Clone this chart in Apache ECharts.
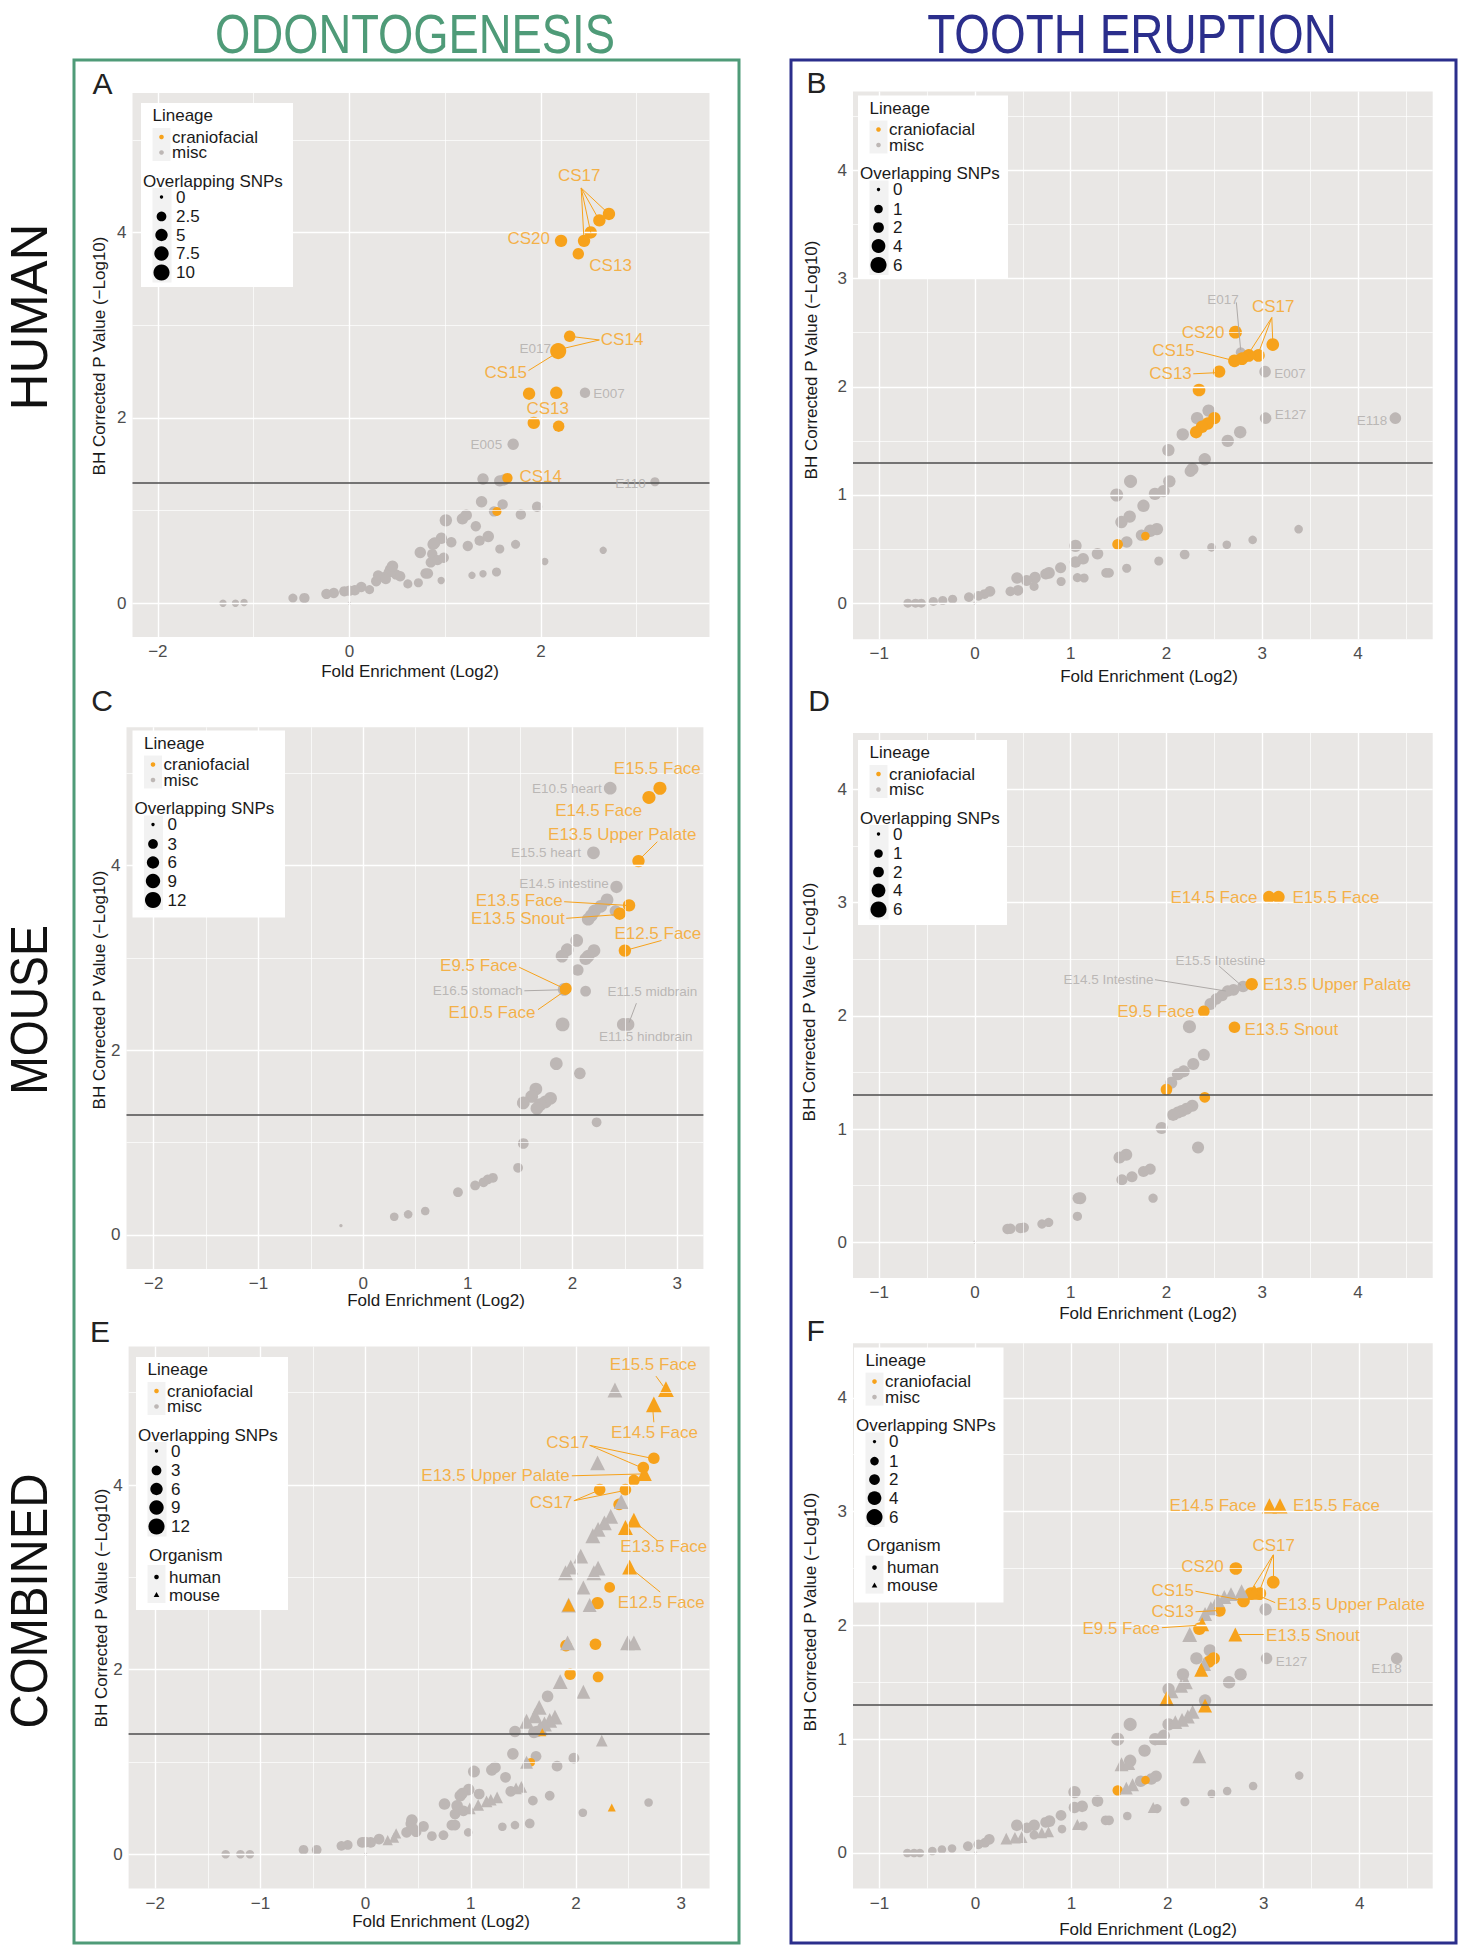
<!DOCTYPE html>
<html><head><meta charset="utf-8">
<script src="https://cdn.jsdelivr.net/npm/echarts@6/dist/echarts.min.js"></script>
<style>html,body{margin:0;padding:0;background:#fff}#c{width:1465px;height:1950px}</style>
</head><body><div id="c"></div>
<script>
// ---------------- DATA ----------------
// [fold enrichment (log2), BH corrected -log10 P, overlapping SNPs]
const threshold = 1.3;

// Panel A : human, odontogenesis
const A_xTicks=[-2,0,2], A_xMinor=[-1,1,3], A_yTicks=[0,2,4], A_yMinor=[1,3,5];
const A_snpKeys=[0,2.5,5,7.5,10];
const A_misc=[
[2.17,2.73,5],[2.46,2.27,3],[1.71,1.715,4],
[1.395,1.34,4],[1.57,1.32,4],[1.615,1.33,4],[3.19,1.31,2],
[1.38,1.095,4],[1.60,1.066,3],[1.51,0.99,3],[1.96,1.04,3],[1.79,0.956,3],
[1.007,0.894,5],[1.18,0.91,4],[1.22,0.95,4],[1.32,0.83,3],
[0.96,0.70,4],[1.064,0.657,3],[0.874,0.635,4],[0.89,0.65,4],[1.236,0.617,3],[1.36,0.675,3],[1.45,0.72,4],[1.57,0.584,2],[1.735,0.635,2],
[0.74,0.547,4],[0.865,0.53,3],[0.85,0.44,3],[0.92,0.465,3],[0.985,0.49,3],
[2.04,0.45,1],[2.65,0.57,1],
[0.43,0.365,4],[0.41,0.33,3],[0.486,0.31,3],[0.36,0.28,3],[0.28,0.237,3],[0.53,0.29,3],[0.61,0.208,2],[0.72,0.22,2],[0.795,0.32,3],[0.82,0.32,3],[0.958,0.245,1],[1.28,0.30,1],[1.395,0.318,1],[1.536,0.336,2],
[0.30,0.30,3],[0.38,0.26,3],[0.45,0.40,4],
[0.21,0.146,2],[0.124,0.175,3],[0.057,0.139,3],[-0.053,0.128,3],[0.0,0.135,3],[-0.163,0.11,3],[-0.24,0.10,3],[-0.47,0.055,3],[-0.59,0.055,2],[0,0,0],[-1.10,0.007,1],[-1.19,0,1],[-1.32,0,1]
];
const A_cf=[
[2.71,4.20,5],[2.61,4.13,5],[2.52,4.0,5],[2.45,3.91,5],[2.21,3.91,5],[2.39,3.77,4],[2.30,2.88,4],[2.18,2.72,10],[1.876,2.26,5],[2.16,2.27,5],[1.925,1.945,5],[2.185,1.91,4],[1.65,1.35,3],[1.54,0.99,2]
];
const A_labels=[
['CS17',2.40,4.62,'c','o'],['CS20',2.10,3.93,'r','o'],['CS13',2.50,3.64,'l','o'],['CS14',2.62,2.84,'l','o'],['E017',2.11,2.75,'r','g'],['CS15',1.86,2.49,'r','o'],['CS13',2.07,2.10,'c','o'],['E007',2.54,2.26,'l','g'],['E005',1.60,1.715,'r','g'],['CS14',1.77,1.37,'l','o'],['E110',3.10,1.29,'r','g']
];
const A_lines=[
[2.42,4.48,2.71,4.20,'o'],[2.42,4.48,2.61,4.13,'o'],[2.42,4.48,2.52,4.0,'o'],[2.42,4.48,2.45,3.91,'o'],
[2.61,2.84,2.30,2.88,'o'],[2.61,2.84,2.20,2.74,'o'],[1.87,2.51,2.15,2.69,'o']
];

// Panel B : human, tooth eruption
const B_xTicks=[-1,0,1,2,3,4], B_xMinor=[-0.5,0.5,1.5,2.5,3.5,4.5], B_yTicks=[0,1,2,3,4], B_yMinor=[0.5,1.5,2.5,3.5,4.5];
const B_snpKeys=[0,1,2,4,6];
const B_misc=[
[2.775,2.32,1.5],[3.03,2.14,2.5],[2.44,1.78,3],[2.32,1.71,3],[3.035,1.71,2.5],[4.39,1.71,2.5],[2.17,1.56,3],[2.77,1.58,3],[2.64,1.50,3],[2.02,1.415,3],[2.40,1.33,3],[2.27,1.24,3],[2.25,1.22,2.5],[1.625,1.126,3.5],[2.03,1.126,3],[1.97,1.036,3],[1.88,1.01,3],[1.48,1.0,3.5],[1.76,0.90,3],[1.616,0.80,3],[1.53,0.75,3],[1.90,0.684,3],[1.83,0.669,3],[1.74,0.628,2.5],[1.585,0.566,2.5],[1.05,0.53,3],[1.05,0.38,2.5],[1.13,0.41,2.5],[1.28,0.457,2.5],
[3.38,0.684,1],[2.90,0.585,1],[2.63,0.54,1],[2.47,0.516,1],[2.19,0.45,1.5],[1.92,0.39,1.2],[1.585,0.323,1.2],[1.37,0.28,1.5],[1.40,0.28,1.5],[1.14,0.233,1.2],[1.07,0.236,1.2],[0.90,0.20,1.2],
[0.895,0.327,2.2],[0.774,0.28,2.5],[0.74,0.27,2.2],[0.627,0.236,2.5],[0.54,0.21,2.2],[0.44,0.233,2.5],[0.618,0.155,1.2],
[0.45,0.118,2],[0.37,0.109,1.5],[0.157,0.109,2],[0.10,0.084,1.5],[0.036,0.068,1.5],[-0.063,0.056,1.5],[0,0,0],[-0.233,0.037,1.2],[-0.336,0.025,1.2],[-0.434,0.016,1.2],[-0.56,0,1.2],[-0.62,0,1.2],[-0.70,0,1.2]
];
const B_cf=[
[2.72,2.505,3.4],[3.11,2.39,3.2],[2.96,2.29,3.2],[2.86,2.29,3.2],[2.79,2.26,3.2],[2.71,2.24,3.2],[2.55,2.14,3],[2.34,1.97,3.2],[2.50,1.71,3],[2.43,1.66,3],[2.37,1.63,3],[2.31,1.58,3],[1.78,0.62,1],[1.49,0.544,2]
];
const B_labels=[
['E017',2.59,2.81,'c','g'],['CS17',3.115,2.74,'c','o'],['CS20',2.61,2.505,'r','o'],['CS15',2.30,2.335,'r','o'],['CS13',2.27,2.12,'r','o'],['E007',3.12,2.12,'l','g'],['E127',3.125,1.74,'l','g'],['E118',4.31,1.69,'r','g']
];
const B_lines=[
[2.73,2.78,2.775,2.34,'g'],[3.10,2.64,3.11,2.42,'o'],[3.10,2.64,2.96,2.31,'o'],[3.10,2.64,2.86,2.31,'o'],[2.31,2.33,2.71,2.24,'o'],[2.28,2.12,2.52,2.13,'o']
];

// Panel C : mouse, odontogenesis
const C_xTicks=[-2,-1,0,1,2,3], C_xMinor=[-1.5,-0.5,0.5,1.5,2.5], C_yTicks=[0,2,4], C_yMinor=[1,3,5];
const C_snpKeys=[0,3,6,9,12];
const C_misc=[
[2.36,4.84,6.5],[2.20,4.14,6.5],[2.42,3.77,6],[2.33,3.63,6.5],[2.27,3.56,6.5],[2.21,3.51,6.5],[2.18,3.46,6.5],[2.15,3.42,6.5],[2.41,3.51,5],[2.04,3.19,6.5],[1.95,3.09,6.5],[1.90,3.02,6.5],[2.205,3.08,6.5],[2.15,3.02,6.5],[2.125,2.99,6],[2.05,2.87,5],[1.92,2.66,6.5],[2.125,2.64,4],[1.905,2.28,8],[2.485,2.28,6.5],[2.53,2.28,6.5],[1.845,1.855,6.5],[2.07,1.75,5],[1.65,1.58,6.5],[1.61,1.50,6.5],[1.53,1.43,6.5],[1.79,1.48,6.5],[1.74,1.44,6.5],[1.69,1.41,6.5],[1.66,1.37,6.5],[2.23,1.22,3],[1.53,0.99,4],[1.48,0.727,3],[1.24,0.618,3],[1.19,0.60,3],[1.15,0.57,3],[1.07,0.535,3],[0.906,0.462,3],[0.593,0.258,2],[0.43,0.222,2],[0.297,0.196,2],[-0.212,0.10,0]
];
const C_cf=[
[2.835,4.84,7],[2.73,4.74,7],[2.63,4.05,6],[2.54,3.57,6],[2.45,3.48,6],[2.50,3.08,6],[1.93,2.66,4.5],[1.94,2.67,4.5]
];
const C_labels=[
['E15.5 Face',2.81,5.05,'c','o'],['E10.5 heart',2.285,4.84,'r','g'],['E14.5 Face',2.67,4.60,'r','o'],['E13.5 Upper Palate',2.475,4.335,'c','o'],['E15.5 heart',2.085,4.14,'r','g'],['E14.5 intestine',2.35,3.805,'r','g'],['E13.5 Face',1.91,3.62,'r','o'],['E13.5 Snout',1.93,3.43,'r','o'],['E12.5 Face',2.815,3.27,'c','o'],['E9.5 Face',1.48,2.92,'r','o'],['E16.5 stomach',1.53,2.645,'r','g'],['E11.5 midbrain',2.33,2.64,'l','g'],['E10.5 Face',1.65,2.41,'r','o'],['E11.5 hindbrain',2.70,2.15,'c','g']
];
const C_lines=[
[2.81,4.26,2.65,4.08,'o'],[1.92,3.61,2.52,3.57,'o'],[1.94,3.43,2.43,3.47,'o'],[2.85,3.19,2.53,3.09,'o'],[1.49,2.90,1.90,2.68,'o'],[1.54,2.645,1.88,2.655,'g'],[1.67,2.44,1.91,2.63,'o'],[2.61,2.51,2.54,2.30,'g']
];

// Panel D : mouse, tooth eruption
const D_xTicks=[-1,0,1,2,3,4], D_xMinor=[-0.5,0.5,1.5,2.5,3.5,4.5], D_yTicks=[0,1,2,3,4], D_yMinor=[0.5,1.5,2.5,3.5];
const D_snpKeys=[0,1,2,4,6];
const D_misc=[
[2.80,2.26,2.5],[2.70,2.23,2.5],[2.64,2.22,2.5],[2.58,2.18,2.5],[2.52,2.15,2.5],[2.46,2.105,2.8],[2.24,1.905,3.5],[2.39,1.656,2.8],[2.28,1.576,2.8],[2.18,1.51,2.8],[2.12,1.485,2.8],[2.05,1.41,2.8],[2.27,1.206,2.8],[2.21,1.18,2.8],[2.16,1.16,2.8],[2.12,1.147,2.8],[2.07,1.126,2.8],[1.95,1.01,2.8],[2.33,0.838,2.8],[1.58,0.774,2.8],[1.51,0.75,2.8],[1.83,0.647,2.2],[1.76,0.626,2.2],[1.64,0.58,2.2],[1.535,0.553,2.2],[1.10,0.39,2.8],[1.08,0.39,2.5],[1.86,0.39,1.3],[1.07,0.23,1.3],[0.77,0.176,1.3],[0.70,0.162,1.3],[0.51,0.13,1.8],[0.475,0.126,1.8],[0.37,0.12,1.8],[0.34,0.118,1.8],[0,0,0]
];
const D_cf=[
[3.07,3.05,3],[3.17,3.05,3],[2.89,2.28,3],[2.39,2.04,2.5],[2.71,1.90,2.5],[2.0,1.35,2.5],[2.40,1.28,2]
];
const D_labels=[
['E14.5 Face',2.955,3.05,'r','o'],['E15.5 Face',3.31,3.05,'l','o'],['E15.5 Intestine',2.565,2.49,'c','g'],['E14.5 Intestine',1.87,2.32,'r','g'],['E13.5 Upper Palate',3.0,2.28,'l','o'],['E9.5 Face',2.30,2.04,'r','o'],['E13.5 Snout',2.81,1.876,'l','o']
];
const D_lines=[
[2.55,2.44,2.78,2.27,'g'],[1.88,2.32,2.62,2.22,'g']
];

// Panel E : combined, odontogenesis
const E_xTicks=[-2,-1,0,1,2,3], E_xMinor=[-1.5,-0.5,0.5,1.5,2.5], E_yTicks=[0,2,4], E_yMinor=[1,3,5];
const E_snpKeys=[0,3,6,9,12];
const E_humanMisc=[
[1.73,1.71,5],[1.42,1.33,5],[1.60,1.32,5],[1.63,1.33,5],[1.40,1.087,5],[1.62,1.06,4],[1.98,1.04,4],[1.82,0.953,4],
[1.03,0.895,5.5],[1.20,0.913,5],[1.23,0.94,5],[1.33,0.833,4],[0.98,0.70,5],[1.08,0.652,4],[0.90,0.634,5],[0.92,0.66,4.5],[1.38,0.68,4],[1.75,0.634,3],[1.59,0.58,3],
[0.75,0.543,5],[0.87,0.525,5],[0.85,0.435,4],[0.93,0.47,4],[2.065,0.449,2],[2.69,0.56,2],
[0.44,0.37,5],[0.43,0.33,4],[0.55,0.30,4],[0.48,0.243,4],[0.39,0.236,4],[0.45,0.28,4],[0.63,0.196,3],[0.74,0.206,3],[0.82,0.315,4],[0.85,0.315,4],[0.975,0.236,2],[1.30,0.297,2],[1.42,0.315,2],[1.56,0.333,3],
[0.128,0.163,4],[0.048,0.127,4],[-0.032,0.127,4],[0.0,0.13,4],[-0.17,0.10,3],[-0.23,0.09,3],[-0.465,0.047,3],[-0.59,0.047,3],[0,0,0],[-1.10,0,2],[-1.19,0,2],[-1.33,0,2]
];
const E_humanCf=[
[2.74,4.29,5],[2.64,4.19,5],[2.55,4.05,5],[2.47,3.95,5],[2.225,3.95,5],[2.41,3.79,5],[2.32,2.89,4],[2.205,2.72,6],[1.905,2.26,5],[2.185,2.275,5],[1.945,1.95,5],[2.21,1.92,4],[1.66,1.33,2],[1.57,0.996,2]
];
const E_mouseMisc=[
[2.37,5.03,6],[2.205,4.24,6],[2.43,3.82,6],[2.33,3.66,6],[2.27,3.59,6],[2.21,3.52,6],[2.16,3.45,6],[2.045,3.23,6],[1.95,3.11,6],[1.90,3.05,6],[2.21,3.10,6],[2.17,3.05,6],[2.07,2.89,5],[1.93,2.70,6],[2.13,2.70,5],
[1.92,2.29,6],[2.49,2.29,6],[2.55,2.29,6],[1.85,1.87,6],[2.07,1.76,5],[1.65,1.59,6],[1.61,1.50,6],[1.53,1.44,6],[1.80,1.485,6],[1.75,1.45,6],[1.70,1.41,6],[1.66,1.37,6],[2.245,1.23,3],[1.53,0.996,4],
[1.43,0.714,3],[1.48,0.73,3],[1.25,0.616,3],[1.19,0.59,3],[1.15,0.572,3],[1.07,0.533,3],[0.99,0.496,3],[0.29,0.225,2],[0.27,0.18,2],[0.21,0.152,2]
];
const E_mouseCf=[
[2.855,5.04,7],[2.74,4.875,7],[2.65,4.125,6],[2.55,3.62,6],[2.47,3.54,6],[2.51,3.11,6],[1.93,2.70,4],[1.68,1.32,0.8],[2.34,0.507,0.8]
];
const E_labels=[
['E15.5 Face',2.735,5.31,'c','o'],['E14.5 Face',2.745,4.57,'c','o'],['CS17',1.92,4.46,'c','o'],['E13.5 Upper Palate',1.945,4.107,'r','o'],['CS17',1.97,3.81,'r','o'],['E13.5 Face',2.835,3.33,'c','o'],['E12.5 Face',2.81,2.73,'c','o']
];
const E_lines=[
[2.76,5.18,2.83,5.07,'o'],[2.74,4.68,2.73,4.82,'o'],[2.13,4.43,2.72,4.29,'o'],[2.13,4.43,2.62,4.19,'o'],[1.96,4.10,2.63,4.12,'o'],[1.98,3.83,2.21,3.94,'o'],[1.98,3.83,2.46,3.94,'o'],[2.77,3.40,2.56,3.60,'o'],[2.80,2.84,2.53,3.09,'o']
];

// Panel F : combined, tooth eruption
const F_xTicks=[-1,0,1,2,3,4], F_xMinor=[-0.5,0.5,1.5,2.5,3.5,4.5], F_yTicks=[0,1,2,3,4], F_yMinor=[0.5,1.5,2.5,3.5];
const F_snpKeys=[0,1,2,4,6];
const F_humanMisc=[
[3.02,2.14,3],[2.44,1.78,3],[2.30,1.71,3],[3.03,1.71,2.5],[4.385,1.71,2.5],[2.76,1.57,3],[2.64,1.50,3],[2.16,1.57,3],[2.01,1.44,3],[2.39,1.34,3],[2.01,1.13,3],[1.61,1.13,3.5],[1.48,1.0,3.5],[1.87,1.0,3],[1.96,1.03,3],[1.76,0.90,3],[1.61,0.81,3],[1.88,0.675,2.5],[1.83,0.65,2.5],[1.72,0.63,2.5],[1.03,0.535,3],[1.03,0.40,2.5],[1.11,0.41,2.5],[1.27,0.456,2.5],
[3.37,0.68,1],[2.89,0.588,1],[2.62,0.544,1],[2.46,0.52,1],[2.18,0.45,1.2],[1.89,0.39,1.2],[1.58,0.325,1],[1.355,0.287,1.5],[1.39,0.287,1.5],[1.12,0.237,1.2],[0.90,0.21,1],
[0.89,0.33,2],[0.77,0.28,2.5],[0.73,0.27,2],[0.61,0.243,2.5],[0.535,0.22,2],[0.43,0.243,2.5],[0.61,0.158,1.2],
[0.143,0.12,2],[0.098,0.09,1.5],[0.03,0.076,1.5],[-0.08,0.06,1.5],[0,0,0],[-0.245,0.04,1],[-0.35,0.03,1],[-0.45,0.018,1],[-0.58,0,1],[-0.64,0,1],[-0.71,0,1]
];
const F_humanCf=[
[2.71,2.50,3.2],[3.10,2.38,3.2],[2.96,2.28,3.2],[2.87,2.28,3.2],[2.79,2.215,3.2],[2.54,2.13,3],[2.33,1.97,3],[2.48,1.71,3],[2.43,1.68,2.8],[1.48,0.55,1.8],[1.77,0.64,1]
];
const F_mouseMisc=[
[2.77,2.30,2.5],[2.66,2.275,2.5],[2.59,2.25,2.5],[2.52,2.22,2.5],[2.45,2.15,2.5],[2.39,2.10,2.5],[2.23,1.92,3],[2.38,1.66,2.5],[2.19,1.50,2.5],[2.14,1.47,2.5],[2.04,1.42,2.5],[2.26,1.24,2.5],[2.21,1.20,2.5],[2.15,1.17,2.5],[2.08,1.15,2.5],[1.93,1.01,2.5],[2.33,0.85,2.5],[1.52,0.78,2.5],[1.59,0.79,2.5],[1.635,0.60,2],[1.57,0.57,2],[1.85,0.40,1.2],[1.06,0.25,1.2],[0.76,0.187,1.2],[0.69,0.178,1.2],[0.48,0.14,1.5],[0.41,0.134,1.5],[0.32,0.126,1.5]
];
const F_mouseCf=[
[3.06,3.05,3.2],[3.17,3.05,3.2],[2.905,2.29,3],[2.36,2.01,2.5],[2.35,1.61,2.5],[2.705,1.92,2.5],[1.99,1.357,2.8],[2.39,1.295,2.5]
];
const F_labels=[
['E14.5 Face',2.93,3.05,'r','o'],['E15.5 Face',3.30,3.05,'l','o'],['CS17',3.105,2.70,'c','o'],['CS20',2.59,2.52,'r','o'],['CS15',2.28,2.305,'r','o'],['E13.5 Upper Palate',3.13,2.18,'l','o'],['CS13',2.28,2.12,'r','o'],['E9.5 Face',1.925,1.97,'r','o'],['E13.5 Snout',3.02,1.91,'l','o'],['E127',3.12,1.684,'l','g'],['E118',4.28,1.62,'c','g']
];
const F_lines=[
[3.10,2.62,3.10,2.42,'o'],[3.10,2.62,2.96,2.31,'o'],[3.10,2.62,2.87,2.31,'o'],[2.29,2.30,2.78,2.22,'o'],[3.12,2.20,2.92,2.27,'o'],[2.29,2.12,2.52,2.13,'o'],[1.94,1.98,2.30,2.0,'o'],[2.74,1.92,3.0,1.92,'o']
];

// ---------------- STYLE / LAYOUT ----------------
const FONT='"Liberation Sans", Arial, Helvetica, sans-serif';
const ORANGE='#f7a21b', GRAY='#bdb7b5', GLAB='#aeaaa8', BG='#e9e7e5', GREEN='#4f9b78', BLUE='#2b2e8c';
function sz(s,smax){return 3.4+12.7*Math.sqrt(Math.max(0,s)/smax);}
function fmtTick(v){return (v<0?'\u2212':'')+Math.abs(v);}

const PANELS=[
{g:[132.5,93,577,544],xr:[-2.265,3.76],yr:[-0.365,5.505],xt:A_xTicks,xm:A_xMinor,yt:A_yTicks,ym:A_yMinor,smax:10,keys:A_snpKeys,hm:A_misc,hc:A_cf,mm:[],mc:[],labels:A_labels,lines:A_lines,box:[141,103,152,184],org:false,letter:['A',102.5,83],xtp:[410,671],ytp:[99,356]},
{g:[853,91.4,579.7,547.8],xr:[-1.273,4.78],yr:[-0.333,4.73],xt:B_xTicks,xm:B_xMinor,yt:B_yTicks,ym:B_yMinor,smax:6,keys:B_snpKeys,hm:B_misc,hc:B_cf,mm:[],mc:[],labels:B_labels,lines:B_lines,box:[858,95.5,150,183.5],org:false,letter:['B',816.6,82],xtp:[1149,676],ytp:[811,360]},
{g:[126.5,727.3,576.9,541.7],xr:[-2.26,3.25],yr:[-0.37,5.50],xt:C_xTicks,xm:C_xMinor,yt:C_yTicks,ym:C_yMinor,smax:12,keys:C_snpKeys,hm:C_misc,hc:C_cf,mm:[],mc:[],labels:C_labels,lines:C_lines,box:[132.5,730.5,152.5,187],org:false,letter:['C',102,700],xtp:[436,1300],ytp:[99,990]},
{g:[853,732.9,579.7,545.1],xr:[-1.273,4.78],yr:[-0.315,4.50],xt:D_xTicks,xm:D_xMinor,yt:D_yTicks,ym:D_yMinor,smax:6,keys:D_snpKeys,hm:D_misc,hc:D_cf,mm:[],mc:[],labels:D_labels,lines:D_lines,box:[858,740,149,185],org:false,letter:['D',819,700],xtp:[1148,1313],ytp:[809,1002]},
{g:[128.6,1346.6,581,542],xr:[-2.253,3.27],yr:[-0.373,5.5],xt:E_xTicks,xm:E_xMinor,yt:E_yTicks,ym:E_yMinor,smax:12,keys:E_snpKeys,hm:E_humanMisc,hc:E_humanCf,mm:E_mouseMisc,mc:E_mouseCf,labels:E_labels,lines:E_lines,box:[136,1357,152,253],org:true,letter:['E',100,1331],xtp:[441,1921],ytp:[101,1608]},
{g:[853,1343.2,579.7,545.4],xr:[-1.276,4.76],yr:[-0.313,4.48],xt:F_xTicks,xm:F_xMinor,yt:F_yTicks,ym:F_yMinor,smax:6,keys:F_snpKeys,hm:F_humanMisc,hc:F_humanCf,mm:F_mouseMisc,mc:F_mouseCf,labels:F_labels,lines:F_lines,box:[854,1347.6,149.5,255],org:true,letter:['F',815.6,1330],xtp:[1148,1929],ytp:[810,1612]}
];

function T(text,x,y,size,color,align,extra){
  return Object.assign({type:'text',x:x,y:y,z:60,silent:true,
    style:{text:text,x:0,y:0,fill:color||'#1a1a1a',fontSize:size,fontFamily:FONT,
      textAlign:align||'left',textVerticalAlign:'middle',align:align||'left',verticalAlign:'middle'}},extra||{});
}
function R(x,y,w,h,fill,z){return {type:'rect',silent:true,z:z||55,shape:{x:x,y:y,width:w,height:h},style:{fill:fill}};}
function Cc(x,y,r,fill){return {type:'circle',silent:true,z:58,shape:{cx:x,cy:y,r:r},style:{fill:fill}};}

const option={animation:false,backgroundColor:'#fff',grid:[],xAxis:[],yAxis:[],series:[],graphic:{elements:[]}};
const G=option.graphic.elements;
const LF=17; // legend font size

PANELS.forEach(function(p,i){
  option.grid.push({left:p.g[0],top:p.g[1],width:p.g[2],height:p.g[3],show:true,backgroundColor:BG,borderWidth:0,containLabel:false,outerBoundsMode:'none'});
  const axisCommon=function(ticks){return {
    axisLine:{show:false},
    axisTick:{show:true,length:4,lineStyle:{color:'#333',width:1},customValues:ticks},
    axisLabel:{show:true,customValues:ticks,formatter:fmtTick,color:'#4d4d4d',fontSize:17,margin:6,fontFamily:FONT},
    splitLine:{show:false},minorTick:{show:false},minorSplitLine:{show:false}};};
  option.xAxis.push(Object.assign({type:'value',gridIndex:i,min:p.xr[0],max:p.xr[1]},axisCommon(p.xt)));
  option.yAxis.push(Object.assign({type:'value',gridIndex:i,min:p.yr[0],max:p.yr[1]},axisCommon(p.yt)));

  // grid lines (major + minor) through the axis scale
  const gl=[];
  p.xt.forEach(function(v){gl.push({xAxis:v,lineStyle:{width:1.4}});});
  p.xm.forEach(function(v){gl.push({xAxis:v,lineStyle:{width:0.7}});});
  p.yt.forEach(function(v){gl.push({yAxis:v,lineStyle:{width:1.4}});});
  p.ym.forEach(function(v){gl.push({yAxis:v,lineStyle:{width:0.7}});});
  option.series.push({type:'scatter',xAxisIndex:i,yAxisIndex:i,data:[[p.xr[0],p.yr[0]]],symbolSize:0,z:1,silent:true,itemStyle:{opacity:0},
    markLine:{silent:true,animation:false,symbol:['none','none'],label:{show:false},emphasis:{disabled:true},lineStyle:{color:'#ffffff',type:'solid'},data:gl}});

  const pts=function(data,color,shape,z){
    return {type:'scatter',xAxisIndex:i,yAxisIndex:i,data:data,symbol:shape,silent:true,z:z,
      symbolSize:function(v){return sz(v[2],p.smax)*(shape==='triangle'?1.2:1);},
      itemStyle:{color:color,opacity:1,borderWidth:0},emphasis:{disabled:true}};
  };
  option.series.push(pts(p.hm,GRAY,'circle',3));
  option.series.push(pts(p.hc,ORANGE,'circle',3));
  if(p.mm.length) option.series.push(pts(p.mm,GRAY,'triangle',3));
  if(p.mc.length) option.series.push(pts(p.mc,ORANGE,'triangle',3));

  // leader lines
  option.series.push({type:'lines',coordinateSystem:'cartesian2d',xAxisIndex:i,yAxisIndex:i,polyline:false,silent:true,z:5,
    lineStyle:{width:1,opacity:1},
    data:p.lines.map(function(l){return {coords:[[l[0],l[1]],[l[2],l[3]]],lineStyle:{color:l[4]==='o'?ORANGE:GLAB}};})});

  // text labels
  option.series.push({type:'scatter',xAxisIndex:i,yAxisIndex:i,symbolSize:1,silent:true,z:6,itemStyle:{color:'rgba(0,0,0,0)'},
    label:{show:true,formatter:'{b}',fontFamily:FONT},
    data:p.labels.map(function(l){return {name:l[0],value:[l[1],l[2]],
      label:{show:true,position:l[3]==='r'?'left':(l[3]==='l'?'right':'inside'),distance:0,
        color:l[4]==='o'?ORANGE:GLAB,fontSize:l[4]==='o'?17:13.5}};})});

  // significance threshold
  option.series.push({type:'scatter',xAxisIndex:i,yAxisIndex:i,data:[[p.xr[0],p.yr[0]]],symbolSize:0,z:8,silent:true,itemStyle:{opacity:0},
    markLine:{silent:true,animation:false,symbol:['none','none'],label:{show:false},emphasis:{disabled:true},
      lineStyle:{color:'#4d4d4d',width:1.6,type:'solid'},data:[{yAxis:threshold}]}});

  // legend box
  const b=p.box, bx=b[0], by=b[1];
  G.push(R(bx,by,b[2],b[3],'#ffffff',50));
  G.push(T('Lineage',bx+11.5,by+12.5,LF));
  G.push(R(bx+11.5,by+25,18,33,'#f2f2f2'));
  G.push(Cc(bx+20.5,by+34,2.3,ORANGE));
  G.push(Cc(bx+20.5,by+49.5,2.3,GRAY));
  G.push(T('craniofacial',bx+31,by+34,LF));
  G.push(T('misc',bx+31,by+49.5,LF));
  G.push(T('Overlapping SNPs',bx+2,by+78,LF));
  G.push(R(bx+11.5,by+85,19,94.5,'#f2f2f2'));
  const ky=[94,113.5,132,150.5,169.5];
  p.keys.forEach(function(v,k){
    G.push(Cc(bx+20.5,by+ky[k],sz(v,p.smax)/2,'#000'));
    G.push(T(String(v),bx+35,by+ky[k],LF));
  });
  if(p.org){
    G.push(T('Organism',bx+13,by+198,LF));
    G.push(R(bx+11.5,by+208,18,38,'#f2f2f2'));
    G.push(Cc(bx+20.5,by+220,2.3,'#000'));
    G.push({type:'polygon',silent:true,z:58,shape:{points:[[bx+20.5,by+235],[bx+23.3,by+240],[bx+17.7,by+240]]},style:{fill:'#000'}});
    G.push(T('human',bx+33,by+220,LF));
    G.push(T('mouse',bx+33,by+238,LF));
  }
  // panel letter and axis titles
  G.push(T(p.letter[0],p.letter[1],p.letter[2],30,'#222','center'));
  G.push(T('Fold Enrichment (Log2)',p.xtp[0],p.xtp[1],17,'#1a1a1a','center'));
  G.push(T('BH Corrected P Value (\u2212Log10)',p.ytp[0],p.ytp[1],17,'#1a1a1a','center',{rotation:Math.PI/2}));
});

// frames and headings
G.push({type:'rect',silent:true,z:70,shape:{x:74,y:60,width:665,height:1883},style:{fill:'none',stroke:GREEN,lineWidth:3}});
G.push({type:'rect',silent:true,z:70,shape:{x:791,y:60,width:665,height:1883},style:{fill:'none',stroke:BLUE,lineWidth:3}});
G.push(T('ODONTOGENESIS',415,34,56,GREEN,'center',{scaleX:0.81}));
G.push(T('TOOTH ERUPTION',1132,34,56,BLUE,'center',{scaleX:0.82}));
G.push(T('HUMAN',29,317,52,'#111','center',{rotation:Math.PI/2,scaleX:0.98}));
G.push(T('MOUSE',29,1010,52,'#111','center',{rotation:Math.PI/2,scaleX:0.89}));
G.push(T('COMBINED',29,1601,52,'#111','center',{rotation:Math.PI/2,scaleX:0.91}));

const chart=echarts.init(document.getElementById('c'),null,{renderer:'svg',width:1465,height:1950});
chart.setOption(option);
</script></body></html>
